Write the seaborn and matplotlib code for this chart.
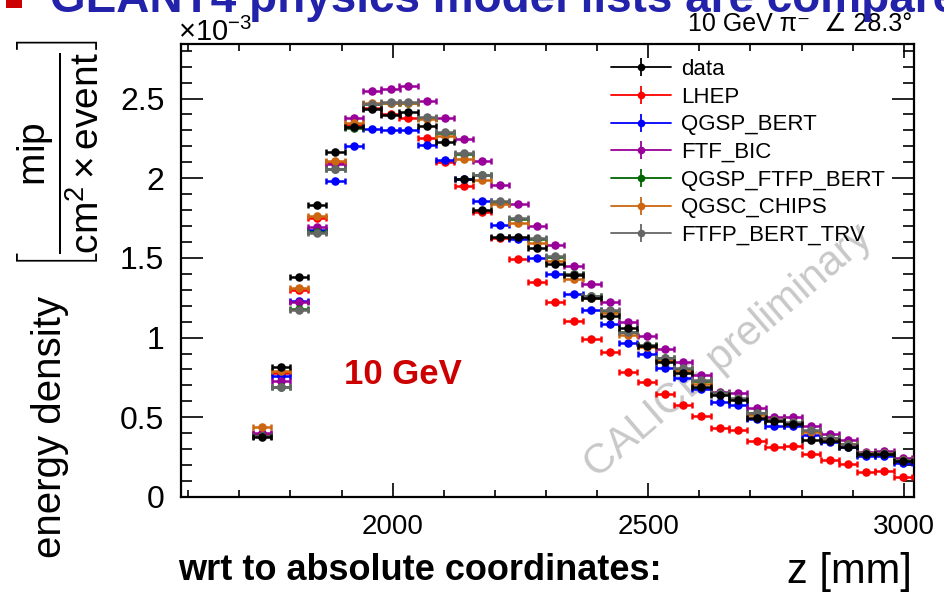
import numpy as np
import pandas as pd
import matplotlib
matplotlib.use("Agg")
import matplotlib.pyplot as plt
import seaborn as sns
from matplotlib.lines import Line2D
from matplotlib.legend_handler import HandlerTuple
from matplotlib.patches import Rectangle
from matplotlib.ticker import MultipleLocator, FuncFormatter

# ---- data (energy density in units of 1e-3 mip/(cm^2 x event)) ----
z_mm = [1745, 1781, 1817, 1852, 1888, 1924, 1960, 1996, 2031, 2067, 2103, 2139,
        2175, 2210, 2246, 2282, 2318, 2354, 2389, 2425, 2461, 2497, 2533, 2568,
        2604, 2640, 2676, 2712, 2747, 2783, 2819, 2855, 2891, 2926, 2962, 2998]

data = [0.376, 0.818, 1.378, 1.830, 2.162, 2.320, 2.433, 2.396, 2.414, 2.327, 2.228, 1.998,
        1.801, 1.633, 1.633, 1.564, 1.463, 1.393, 1.251, 1.138, 1.058, 0.947, 0.850, 0.779,
        0.690, 0.638, 0.607, 0.495, 0.478, 0.455, 0.359, 0.352, 0.316, 0.268, 0.268, 0.223]

lhep = [0.395, 0.780, 1.299, 1.752, 2.100, 2.335, 2.440, 2.400, 2.376, 2.252, 2.104, 1.950,
        1.790, 1.623, 1.494, 1.347, 1.225, 1.104, 0.989, 0.908, 0.784, 0.720, 0.644, 0.577,
        0.508, 0.435, 0.420, 0.353, 0.313, 0.322, 0.270, 0.235, 0.204, 0.159, 0.163, 0.127]

qgsp_bert = [0.385, 0.757, 1.232, 1.675, 1.982, 2.205, 2.311, 2.305, 2.305, 2.211, 2.114, 1.995,
             1.860, 1.709, 1.619, 1.502, 1.397, 1.272, 1.171, 1.087, 0.968, 0.895, 0.811, 0.745,
             0.676, 0.598, 0.575, 0.487, 0.443, 0.445, 0.389, 0.347, 0.312, 0.257, 0.257, 0.211]

ftf_bic = [0.400, 0.728, 1.221, 1.692, 2.089, 2.376, 2.545, 2.559, 2.581, 2.485, 2.375, 2.248,
           2.108, 1.957, 1.837, 1.702, 1.578, 1.451, 1.334, 1.225, 1.100, 1.012, 0.927, 0.844,
           0.764, 0.660, 0.654, 0.557, 0.501, 0.500, 0.443, 0.394, 0.357, 0.281, 0.290, 0.243]

qgsp_ftfp_bert = [0.380, 0.690, 1.178, 1.660, 2.060, 2.318, 2.465, 2.472, 2.472, 2.380, 2.286, 2.153,
                  2.018, 1.850, 1.745, 1.620, 1.507, 1.396, 1.259, 1.168, 1.034, 0.952, 0.869, 0.804,
                  0.728, 0.652, 0.617, 0.526, 0.480, 0.467, 0.417, 0.369, 0.331, 0.272, 0.272, 0.232]

qgsc_chips = [0.439, 0.790, 1.311, 1.765, 2.110, 2.348, 2.470, 2.474, 2.470, 2.370, 2.263, 2.123,
              1.990, 1.837, 1.720, 1.593, 1.481, 1.365, 1.250, 1.156, 1.016, 0.940, 0.860, 0.790,
              0.710, 0.645, 0.615, 0.514, 0.480, 0.465, 0.410, 0.365, 0.330, 0.273, 0.273, 0.232]

ftfp_bert_trv = [0.382, 0.688, 1.175, 1.658, 2.058, 2.320, 2.468, 2.476, 2.476, 2.383, 2.290, 2.157,
                 2.021, 1.854, 1.748, 1.623, 1.510, 1.400, 1.262, 1.171, 1.037, 0.955, 0.872, 0.807,
                 0.731, 0.655, 0.620, 0.529, 0.483, 0.470, 0.420, 0.372, 0.334, 0.275, 0.275, 0.235]

labels = ["data", "LHEP", "QGSP_BERT", "FTF_BIC", "QGSP_FTFP_BERT", "QGSC_CHIPS", "FTFP_BERT_TRV"]
values = [data, lhep, qgsp_bert, ftf_bic, qgsp_ftfp_bert, qgsc_chips, ftfp_bert_trv]
colors = ["#000000", "#ff0000", "#0000ff", "#990099", "#006600", "#cc6611", "#666666"]

x_ticks = [2000, 2500, 3000]

# ---- style ----
sns.set_theme(style="ticks")
plt.rcParams["font.family"] = ["Liberation Sans", "DejaVu Sans"]
plt.rcParams["mathtext.fontset"] = "custom"
plt.rcParams["mathtext.rm"] = "Liberation Sans"
plt.rcParams["mathtext.it"] = "Liberation Sans:italic"
plt.rcParams["mathtext.bf"] = "Liberation Sans:bold"
plt.rcParams["axes.edgecolor"] = "black"
plt.rcParams["text.color"] = "black"
plt.rcParams["xtick.color"] = "black"
plt.rcParams["ytick.color"] = "black"

W, H = 944, 593
fig = plt.figure(figsize=(W / 100, H / 100), dpi=100)
fig.patch.set_facecolor("white")
ax = fig.add_axes([181 / W, 1 - 497 / H, (914 - 181) / W, (497 - 44) / H])


def fx(x):
    return x / W


def fy(y):
    return 1 - y / H


# long-form frame
df = pd.DataFrame({
    "z": np.tile(z_mm, len(labels)),
    "val": np.concatenate(values),
    "model": np.repeat(labels, len(z_mm)),
})

# draw models first (legend order), data last on top
draw_order = labels[1:] + labels[:1]
half_bin = 17.9
for k, name in enumerate(draw_order):
    col = colors[labels.index(name)]
    sub = df[df["model"] == name]
    ax.errorbar(sub["z"], sub["val"], xerr=half_bin, fmt="none", ecolor=col,
                elinewidth=1.8, capsize=2.4, capthick=1.8, zorder=3 + 2 * k)
    sns.scatterplot(data=sub, x="z", y="val", color=col, s=38, linewidth=0,
                    ax=ax, zorder=4 + 2 * k, legend=False)

ax.set_xlim(1586, 3020)
ax.set_ylim(0, 2.842)
ax.set_xlabel("")
ax.set_ylabel("")

for sp in ax.spines.values():
    sp.set_visible(True)
    sp.set_linewidth(1.6)
    sp.set_color("black")

ax.xaxis.set_major_locator(plt.FixedLocator(x_ticks))
ax.xaxis.set_minor_locator(MultipleLocator(100))
ax.yaxis.set_major_locator(MultipleLocator(0.5))
ax.yaxis.set_minor_locator(MultipleLocator(0.1))
ax.yaxis.set_major_formatter(FuncFormatter(lambda v, _: f"{v:g}"))
ax.tick_params(which="both", direction="in", top=True, right=True, colors="black", width=1.2)
ax.tick_params(axis="x", which="major", length=10, pad=12, labelsize=20)
ax.tick_params(axis="x", which="minor", length=5)
ax.tick_params(axis="y", which="major", length=16, pad=12, labelsize=23)
ax.tick_params(axis="y", which="minor", length=8)

# legend
handles = []
for name in labels:
    col = colors[labels.index(name)]
    h1 = Line2D([], [], color=col, lw=1.3, marker="o", ms=5.5, mew=0)
    h2 = Line2D([], [], color=col, lw=0, marker="|", ms=13, mew=1.3)
    handles.append((h1, h2))
ax.legend(handles, labels, loc="upper left", bbox_to_anchor=(fx(611), fy(59)),
          bbox_transform=fig.transFigure, frameon=False, fontsize=16,
          handlelength=2.7, handletextpad=0.45, labelspacing=0.3,
          borderaxespad=0, borderpad=0,
          handler_map={tuple: HandlerTuple(ndivide=1, pad=0)})

# watermark and in-plot label
ax.text(fx(728), fy(352), "CALICE preliminary", transform=fig.transFigure,
        rotation=40.7, ha="center", va="center", fontsize=30, color="#c8c8c8", zorder=1)
ax.text(fx(403), fy(375), "10 GeV", transform=fig.transFigure, ha="center", va="center",
        fontsize=25, fontweight="bold", color="#cc0000", zorder=20)

# outer texts
fig.text(fx(178), fy(41), "×10$^{-3}$", fontsize=21, ha="left", va="baseline")
fig.text(fx(912), fy(31), "10 GeV π⁻  ∠ 28.3°", fontsize=18, ha="right", va="baseline")
fig.text(fx(912), fy(583), "z [mm]", fontsize=30, ha="right", va="baseline")
fig.text(fx(178), fy(580), "wrt to absolute coordinates:", fontsize=26,
         fontweight="bold", ha="left", va="baseline")
fig.text(fx(50), fy(427), "energy density", fontsize=29, rotation=90, ha="center", va="center")
fig.text(fx(58), fy(154), r"$\left[\dfrac{\mathrm{mip}}{\mathrm{cm}^{2}\times\mathrm{event}}\right]$",
         fontsize=28, rotation=90, ha="center", va="center")

# clipped title at the very top
fig.text(fx(50), fy(12), "GEANT4 physics model lists are compared", fontsize=33,
         fontweight="bold", color="#2222aa", ha="left", va="baseline")
fig.patches.append(Rectangle((fx(6), fy(8)), fx(16), 8 / H, transform=fig.transFigure,
                             facecolor="#cc0000", edgecolor="none"))

fig.savefig("out.png", dpi=100)
